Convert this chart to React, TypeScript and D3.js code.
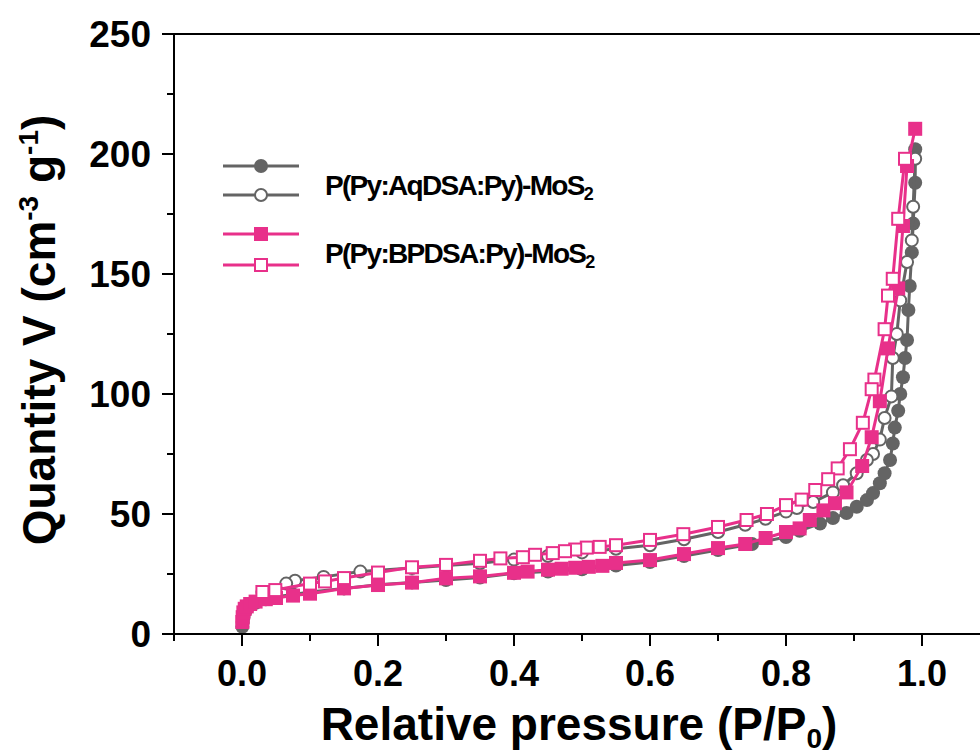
import React from "react";
import * as d3 from "d3";

// ---- Data ----
const aqdsaAdsorption: [number, number][] = [
  [0.0005, 3], [0.001, 5], [0.002, 7], [0.004, 9], [0.007, 10.5], [0.012, 12],
  [0.02, 13], [0.035, 14.5], [0.05, 15.5], [0.075, 16.5], [0.1, 17.5], [0.15, 19],
  [0.2, 20.5], [0.25, 21.5], [0.3, 22.5], [0.35, 23.5], [0.4, 25.3], [0.45, 26],
  [0.5, 27], [0.55, 28.5], [0.6, 30], [0.65, 32.5], [0.7, 35], [0.75, 37.5],
  [0.8, 40.4], [0.82, 43], [0.85, 46], [0.869, 48.3], [0.889, 50.4], [0.904, 53],
  [0.919, 55.8], [0.928, 58.7], [0.938, 62.8], [0.945, 67], [0.953, 72.5],
  [0.957, 79.4], [0.96, 86], [0.965, 93], [0.968, 100], [0.972, 107], [0.975, 115],
  [0.978, 122.5], [0.98, 135], [0.982, 145], [0.985, 159], [0.987, 171],
  [0.99, 188], [0.99, 202],
];

const aqdsaDesorption: [number, number][] = [
  [0.99, 198], [0.987, 178], [0.985, 164], [0.978, 155], [0.968, 139], [0.963, 125],
  [0.957, 115], [0.955, 99], [0.945, 90], [0.938, 81], [0.928, 75], [0.919, 72.5],
  [0.904, 67], [0.884, 62], [0.869, 59], [0.84, 55], [0.816, 52.5], [0.8, 51],
  [0.77, 48], [0.74, 45.5], [0.7, 42.5], [0.65, 39.5], [0.6, 37], [0.55, 35.5],
  [0.5, 34], [0.45, 32.5], [0.4, 31], [0.35, 29.5], [0.3, 28.5], [0.25, 27.5],
  [0.174, 26], [0.12, 23.8], [0.078, 22.2], [0.065, 21], [0.03, 17.5],
];

const bpdsaAdsorption: [number, number][] = [
  [0.0005, 5], [0.001, 7], [0.002, 9], [0.004, 10.5], [0.007, 11.5], [0.012, 12.5],
  [0.02, 13.5], [0.035, 14.5], [0.05, 15], [0.075, 16], [0.1, 16.8], [0.15, 19],
  [0.2, 20.4], [0.25, 21.4], [0.3, 23.2], [0.35, 24], [0.4, 25.5], [0.42, 26],
  [0.45, 26.8], [0.47, 27.2], [0.49, 27.6], [0.51, 28], [0.53, 28.4], [0.55, 29.6],
  [0.6, 30.8], [0.65, 33.3], [0.7, 35.8], [0.74, 37.5], [0.77, 40], [0.8, 42.5],
  [0.82, 44], [0.835, 47.5], [0.855, 51.5], [0.872, 54.5], [0.889, 59], [0.912, 70],
  [0.926, 82], [0.938, 97], [0.95, 119], [0.965, 144], [0.972, 170], [0.978, 195],
  [0.99, 210.5],
];

const bpdsaDesorption: [number, number][] = [
  [0.975, 198], [0.965, 173], [0.957, 148], [0.95, 141], [0.945, 127], [0.93, 106],
  [0.926, 102], [0.913, 88], [0.894, 77], [0.876, 69], [0.862, 64.5], [0.843, 60],
  [0.823, 56], [0.8, 53.7], [0.772, 50], [0.742, 47.5], [0.7, 44.6], [0.649, 41.6],
  [0.6, 39.2], [0.55, 37], [0.526, 36.3], [0.507, 36], [0.49, 35.2], [0.475, 34.5],
  [0.457, 33.7], [0.431, 33], [0.413, 32], [0.38, 31.5], [0.35, 30.5], [0.3, 28.8],
  [0.25, 27.8], [0.2, 25.6], [0.15, 23.3], [0.122, 21.9], [0.1, 21], [0.049, 18.3],
  [0.03, 17.5],
];

const xMajorTicks = [0, 0.2, 0.4, 0.6, 0.8, 1.0];
const xMinorTicks = [-0.1, 0.1, 0.3, 0.5, 0.7, 0.9, 1.1];
const yMajorTicks = [0, 50, 100, 150, 200, 250];
const yMinorTicks = [25, 75, 125, 175, 225];

const legendLabels = ["P(Py:AqDSA:Py)-MoS", "P(Py:BPDSA:Py)-MoS"];

const GREY = "#646464";
const PINK = "#E8308A";
const FONT = "'Liberation Sans', Arial, sans-serif";

const W = 980;
const H = 753;

const x = d3.scaleLinear().domain([-0.1, 1.1]).range([174, 990]);
const y = d3.scaleLinear().domain([0, 250]).range([634, 34]);

const line = d3
  .line<[number, number]>()
  .x((d) => x(d[0]))
  .y((d) => y(d[1]));

type Shape = "circle" | "square";

function Marker({ cx, cy, shape, color, filled }: { cx: number; cy: number; shape: Shape; color: string; filled: boolean }) {
  const s = 14;
  if (shape === "circle") {
    return filled ? (
      <circle cx={cx} cy={cy} r={s / 2} fill={color} />
    ) : (
      <circle cx={cx} cy={cy} r={s / 2 - 1} fill="#fff" stroke={color} strokeWidth={2} />
    );
  }
  return filled ? (
    <rect x={cx - s / 2} y={cy - s / 2} width={s} height={s} fill={color} />
  ) : (
    <rect x={cx - s / 2 + 1} y={cy - s / 2 + 1} width={s - 2} height={s - 2} fill="#fff" stroke={color} strokeWidth={2} />
  );
}

function Series({ data, shape, color, filled }: { data: [number, number][]; shape: Shape; color: string; filled: boolean }) {
  return (
    <g>
      <path d={line(data) || ""} fill="none" stroke={color} strokeWidth={3} />
      {data.map((d, i) => (
        <Marker key={i} cx={x(d[0])} cy={y(d[1])} shape={shape} color={color} filled={filled} />
      ))}
    </g>
  );
}

function LegendRow({ yy, shape, color, filled }: { yy: number; shape: Shape; color: string; filled: boolean }) {
  return (
    <g>
      <line x1={223} x2={299} y1={yy} y2={yy} stroke={color} strokeWidth={3} />
      <Marker cx={261} cy={yy} shape={shape} color={color} filled={filled} />
    </g>
  );
}

export default function App() {
  const x0 = x.range()[0];
  const yBottom = y(0);
  const yTop = y(250);
  return (
    <svg width={W} height={H} style={{ position: "absolute", left: 0, top: 0, background: "#fff" }} fontFamily={FONT}>
      <rect width={W} height={H} fill="#fff" />
      {/* data */}
      <Series data={aqdsaAdsorption} shape="circle" color={GREY} filled />
      <Series data={aqdsaDesorption} shape="circle" color={GREY} filled={false} />
      <Series data={bpdsaAdsorption} shape="square" color={PINK} filled />
      <Series data={bpdsaDesorption} shape="square" color={PINK} filled={false} />

      {/* axes frame */}
      <line x1={x0} x2={990} y1={yBottom} y2={yBottom} stroke="#000" strokeWidth={2} />
      <line x1={x0} x2={990} y1={yTop} y2={yTop} stroke="#000" strokeWidth={2} />
      <line x1={x0} x2={x0} y1={yTop} y2={yBottom} stroke="#000" strokeWidth={2} />

      {/* x ticks */}
      {xMajorTicks.map((t) => (
        <g key={"xm" + t}>
          <line x1={x(t)} x2={x(t)} y1={yBottom} y2={yBottom + 12} stroke="#000" strokeWidth={2} />
          <text x={x(t)} y={686} textAnchor="middle" fontSize={36} fontWeight="bold">
            {d3.format(".1f")(t)}
          </text>
        </g>
      ))}
      {xMinorTicks.map((t) => (
        <line key={"xn" + t} x1={x(t)} x2={x(t)} y1={yBottom} y2={yBottom + 7} stroke="#000" strokeWidth={2} />
      ))}

      {/* y ticks */}
      {yMajorTicks.map((t) => (
        <g key={"ym" + t}>
          <line x1={x0 - 12} x2={x0} y1={y(t)} y2={y(t)} stroke="#000" strokeWidth={2} />
          <text x={151} y={y(t)} dy="0.36em" textAnchor="end" fontSize={37} fontWeight="bold">
            {t}
          </text>
        </g>
      ))}
      {yMinorTicks.map((t) => (
        <line key={"yn" + t} x1={x0 - 7} x2={x0} y1={y(t)} y2={y(t)} stroke="#000" strokeWidth={2} />
      ))}

      {/* axis titles */}
      <text x={579} y={740} textAnchor="middle" fontSize={46} fontWeight="bold">
        Relative pressure (P/P<tspan fontSize={28} dy={8}>0</tspan>
        <tspan dy={-8}>)</tspan>
      </text>
      <text transform="translate(55,330) rotate(-90)" textAnchor="middle" fontSize={46} fontWeight="bold">
        Quantity V (cm<tspan fontSize={28} dy={-17}>-3</tspan>
        <tspan dy={17}> g</tspan>
        <tspan fontSize={28} dy={-17}>-1</tspan>
        <tspan dy={17}>)</tspan>
      </text>

      {/* legend */}
      <LegendRow yy={166} shape="circle" color={GREY} filled />
      <LegendRow yy={195} shape="circle" color={GREY} filled={false} />
      <LegendRow yy={234} shape="square" color={PINK} filled />
      <LegendRow yy={265} shape="square" color={PINK} filled={false} />
      <text x={325} y={195} fontSize={28} fontWeight="bold" letterSpacing={-1.7}>
        {legendLabels[0]}
        <tspan fontSize={18} dy={5}>2</tspan>
      </text>
      <text x={325} y={263} fontSize={28} fontWeight="bold" letterSpacing={-1.7}>
        {legendLabels[1]}
        <tspan fontSize={18} dy={5}>2</tspan>
      </text>
    </svg>
  );
}
